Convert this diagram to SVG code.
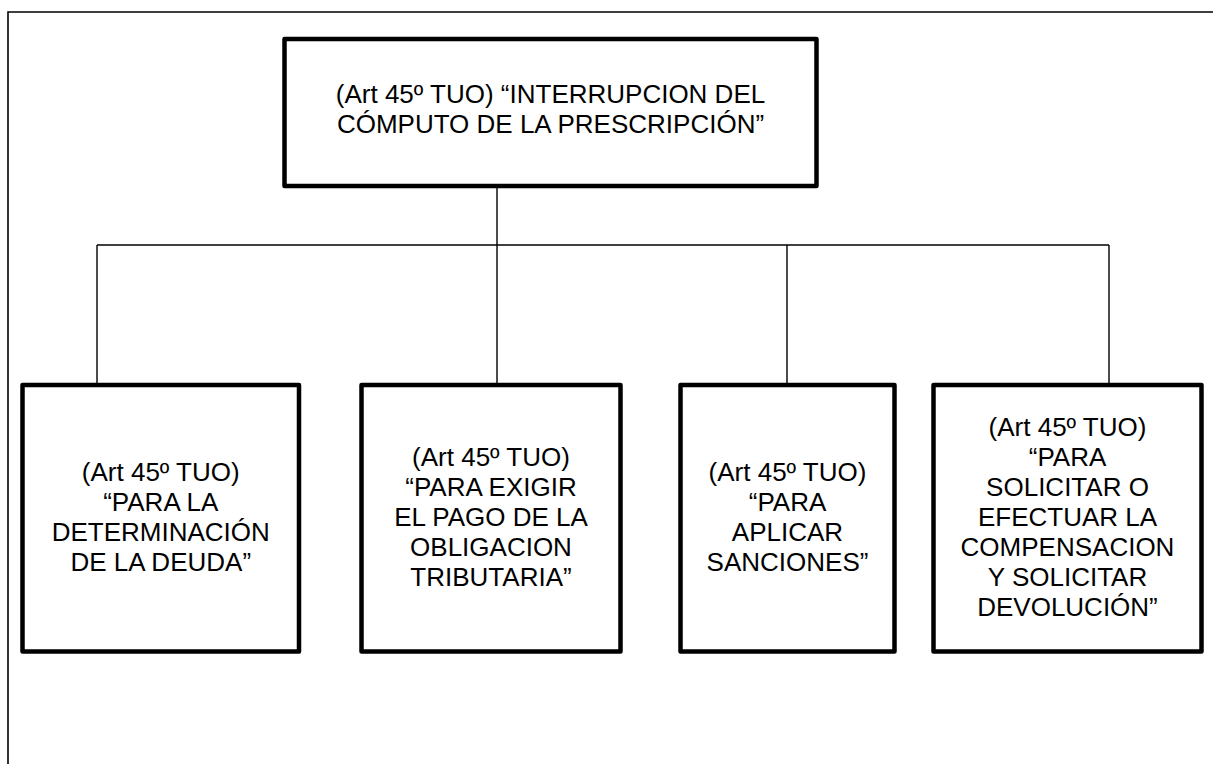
<svg xmlns="http://www.w3.org/2000/svg" width="1213" height="764" viewBox="0 0 1213 764">
<style>
.box{fill:#fff;stroke:#000;stroke-width:4.5;stroke-linejoin:round}
.ln{fill:none;stroke:#000;stroke-width:1.4}
.frame{fill:none;stroke:#000;stroke-width:1.6}
text{font-family:"Liberation Sans",Arial,sans-serif;font-size:26px;fill:#000;text-anchor:middle}
</style>
<rect width="1213" height="764" fill="#fff"/>
<path class="frame" d="M8,770 V12 H1220"/>
<g id="connectors">
<path class="ln" d="M497,186 V385"/>
<path class="ln" d="M97,245 H1109"/>
<path class="ln" d="M97,245 V385"/>
<path class="ln" d="M787,245 V385"/>
<path class="ln" d="M1109,245 V385"/>
</g>
<g id="n0">
<rect class="box" x="284.5" y="39" width="532" height="147"/>
<text x="550.5" y="103">(Art 45º TUO) “INTERRUPCION DEL</text>
<text x="550.5" y="133">CÓMPUTO DE LA PRESCRIPCIÓN”</text>
</g>
<g id="n1">
<rect class="box" x="22.5" y="385" width="276.5" height="266.5"/>
<text x="160.75" y="481">(Art 45º TUO)</text>
<text x="160.75" y="511">“PARA LA</text>
<text x="160.75" y="541">DETERMINACIÓN</text>
<text x="160.75" y="571">DE LA DEUDA”</text>
</g>
<g id="n2">
<rect class="box" x="361.5" y="385" width="259" height="266.5"/>
<text x="491" y="466">(Art 45º TUO)</text>
<text x="491" y="496">“PARA EXIGIR</text>
<text x="491" y="526">EL PAGO DE LA</text>
<text x="491" y="556">OBLIGACION</text>
<text x="491" y="586">TRIBUTARIA”</text>
</g>
<g id="n3">
<rect class="box" x="680.5" y="385" width="214" height="266.5"/>
<text x="787.5" y="481">(Art 45º TUO)</text>
<text x="787.5" y="511">“PARA</text>
<text x="787.5" y="541">APLICAR</text>
<text x="787.5" y="571">SANCIONES”</text>
</g>
<g id="n4">
<rect class="box" x="933.5" y="385" width="268" height="266.5"/>
<text x="1067.5" y="436">(Art 45º TUO)</text>
<text x="1067.5" y="466">“PARA</text>
<text x="1067.5" y="496">SOLICITAR O</text>
<text x="1067.5" y="526">EFECTUAR LA</text>
<text x="1067.5" y="556">COMPENSACION</text>
<text x="1067.5" y="586">Y SOLICITAR</text>
<text x="1067.5" y="616">DEVOLUCIÓN”</text>
</g>
</svg>
